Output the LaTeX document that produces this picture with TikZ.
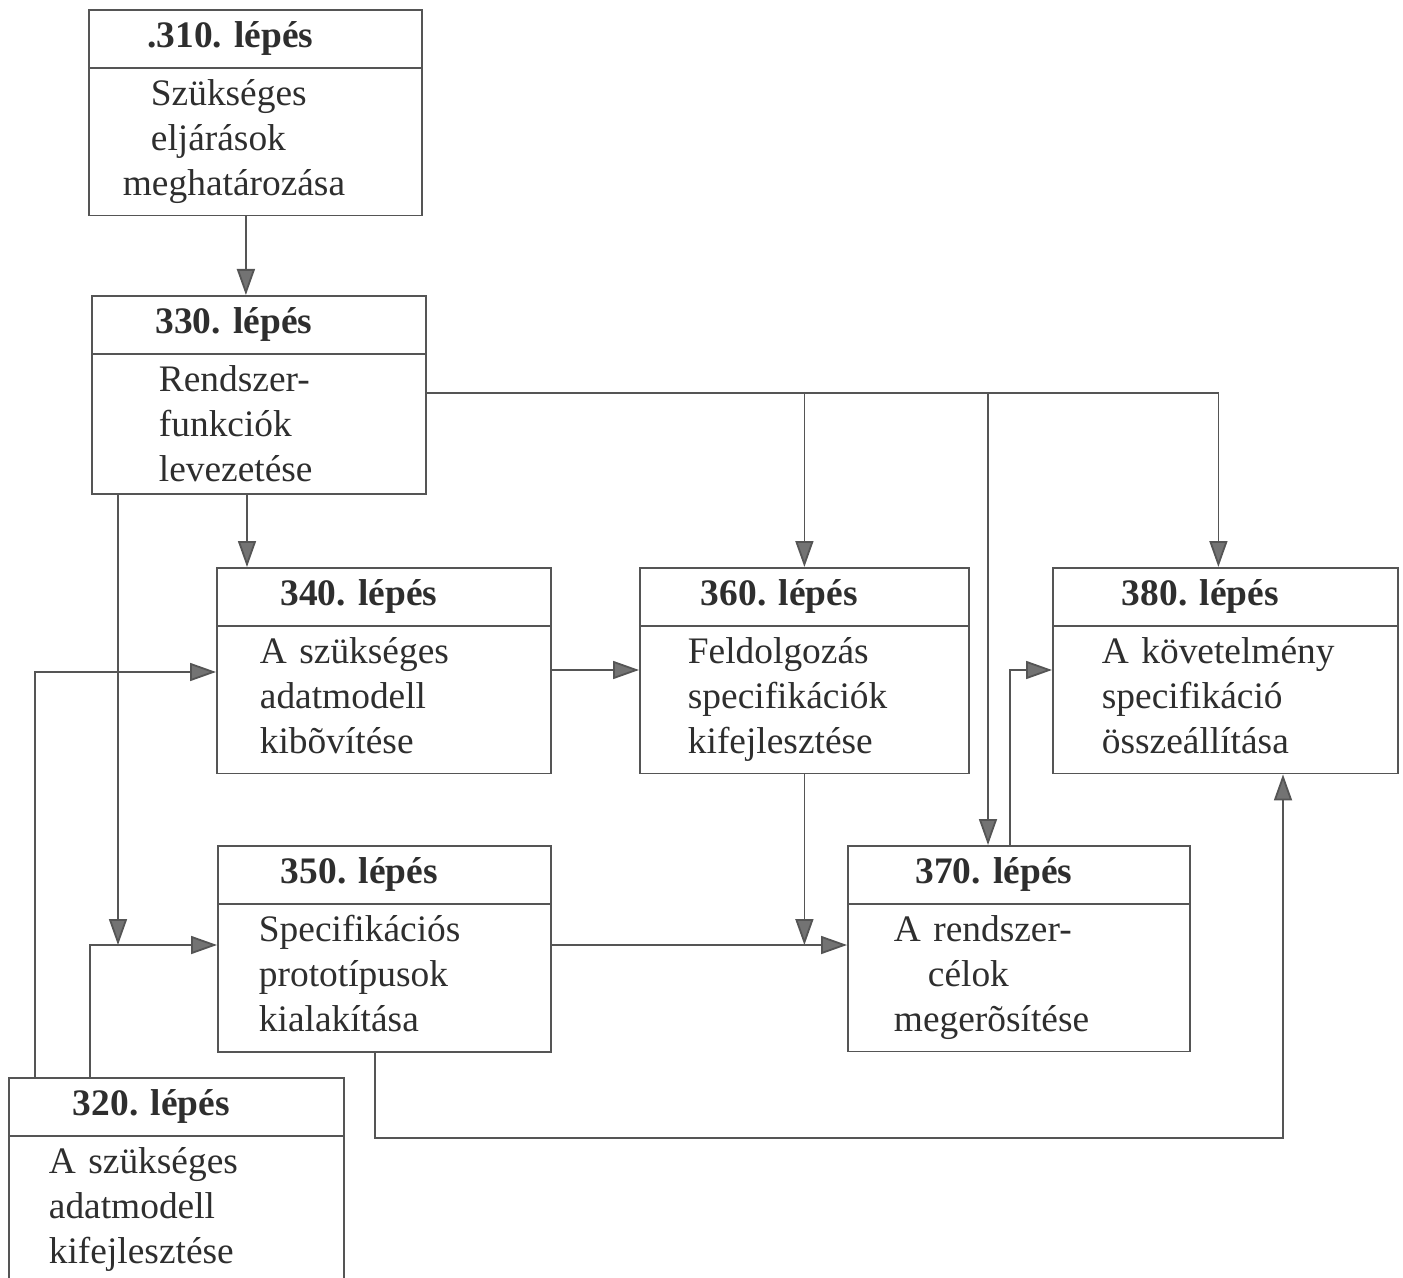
\documentclass[tikz,border=0pt]{standalone}
\usepackage{fontspec}
\setmainfont{Liberation Serif}
\usetikzlibrary{positioning,arrows.meta,shapes.multipart,calc}
\definecolor{inkgray}{HTML}{2E2E2E}
\definecolor{linegray}{HTML}{555555}
\tikzset{
  stepbox/.style={draw=linegray,line width=0.9pt,rectangle split,rectangle split parts=2,
    align=left,anchor=north west,
    font=\fontsize{18.7}{22.5}\selectfont\frenchspacing,text=inkgray,inner ysep=5.5pt},
  arr/.style={-{Triangle[length=13pt,width=9pt,fill=black!55]},draw=linegray,line width=0.9pt}
}
\newcommand{\lepes}[1]{\makebox[\hsize][c]{\hspace*{-25pt}\textbf{#1. lépés}}}

\begin{document}
\begin{tikzpicture}[x=0.5pt,y=-0.5pt]
\useasboundingbox (0,0) rectangle (1403,1278);
\clip (0,0) rectangle (1403,1278);

% steps
\node[stepbox,text width=132.5pt,inner xsep=17pt] (s310) at (88,9)
  {\lepes{.310}\nodepart{two}\hspace*{14pt}Szükséges\\\hspace*{14pt}eljárások\\meghatározása};
\node[stepbox,text width=100pt,inner xsep=33.5pt] (s330) at (91,295)
  {\lepes{330}\nodepart{two}Rendszer-\\funkciók\\levezetése};
\node[stepbox,text width=124pt,inner xsep=21.5pt] (s340) at (216,567)
  {\lepes{340}\nodepart{two}A szükséges\\adatmodell\\kibõvítése\vphantom{g}};
\node[stepbox,text width=116.5pt,inner xsep=24pt] (s360) at (639,567)
  {\lepes{360}\nodepart{two}Feldolgozás\\specifikációk\\kifejlesztése};
\node[stepbox,text width=123.5pt,inner xsep=24.5pt] (s380) at (1052,567)
  {\lepes{380}\nodepart{two}A követelmény\\specifikáció\\összeállítása\vphantom{g}};
\node[stepbox,text width=125.5pt,inner xsep=20.5pt] (s350) at (217,845)
  {\lepes{350}\nodepart{two}Specifikációs\\prototípusok\\kialakítása\vphantom{g}};
\node[stepbox,text width=125pt,inner xsep=23pt] (s370) at (847,845)
  {\lepes{370}\nodepart{two}A rendszer-\\\hspace*{17pt}célok\\megerõsítése};
\node[stepbox,text width=127.5pt,inner xsep=20pt] (s320) at (8,1077)
  {\lepes{320}\nodepart{two}A szükséges\\adatmodell\\kifejlesztése};

% connection points
\coordinate (o310) at ([xshift=-4.75pt]s310.south);
\coordinate (i340) at ([xshift=15.5pt]s340.north west);
\coordinate (bus) at ([yshift=-49pt]s330.north east);
\coordinate (i370) at ([xshift=70.5pt]s370.north west);
\coordinate (i380) at ([xshift=-3.5pt]s380.north);
\coordinate (o330) at ([xshift=13.5pt]s330.south west);
\coordinate (w340) at ([yshift=-52.5pt]s340.north west);
\coordinate (w350) at ([yshift=-50pt]s350.north west);
\coordinate (w370) at ([yshift=-50pt]s370.north west);
\coordinate (w380) at ([yshift=-51.5pt]s380.north west);
\coordinate (e340) at ([yshift=-51.5pt]s340.north east);
\coordinate (a320) at ([xshift=13.5pt]s320.north west);
\coordinate (b320) at ([xshift=41pt]s320.north west);
\coordinate (o370) at ([xshift=81.5pt]s370.north west);
\coordinate (o350) at ([xshift=79pt]s350.south west);
\coordinate (u380) at ([xshift=115.5pt]s380.south west);

% arrows
\draw[arr] (o310) -- (o310 |- s330.north);
\draw[arr] (i340 |- s330.south) -- (i340);
\draw[arr] (bus) -| (i380);
\draw[arr] (bus -| s360.north) -- (s360.north);
\draw[arr] (bus -| i370) -- (i370);
\draw[arr] (o330) -- (o330 |- w350);
\draw[arr] (a320) |- (w340);
\draw[arr] (b320) |- (w350);
\draw[arr] (e340) -- (e340 -| s360.west);
\draw[arr] (s360.south) -- (s360.south |- w370);
\draw[arr] (w350 -| s350.east) -- (w370);
\draw[arr] (o370) |- (w380);
\draw[arr] (o350) -- ++(0,-42.5pt) -| (u380);
\end{tikzpicture}
\end{document}
